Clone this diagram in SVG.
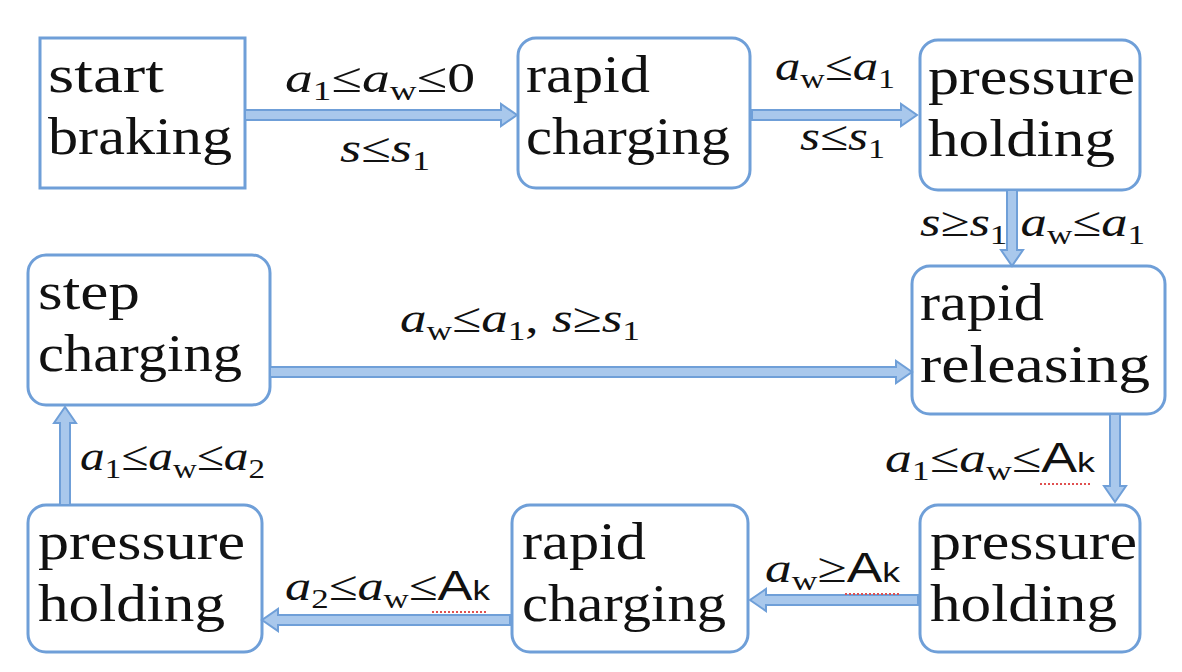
<svg xmlns="http://www.w3.org/2000/svg" width="1182" height="672" viewBox="0 0 1182 672">
<style>
.n{fill:#fff;stroke:#6f9fd8;stroke-width:3}
.t{font-family:"Liberation Serif",serif;font-size:52px;fill:#111}
.a{fill:#a9c8ec;stroke:#6f9fd8;stroke-width:2}
.l{font-family:"Liberation Serif",serif;font-size:42px;fill:#111}
.i{font-style:italic}
.s{font-size:28px}
.k{font-family:"Liberation Sans",sans-serif}
.u{stroke:#e05050;stroke-width:2;stroke-dasharray:2 2;fill:none}
</style>
<rect width="1182" height="672" fill="#fff"/>
<g id="n1"><rect class="n" x="40" y="38" width="205" height="150"/><text class="t" x="48" y="92" textLength="116" lengthAdjust="spacingAndGlyphs">start</text><text class="t" x="48" y="154" textLength="184" lengthAdjust="spacingAndGlyphs">braking</text></g>
<g id="n2"><rect class="n" x="518" y="38" width="232" height="150" rx="18"/><text class="t" x="526" y="92" textLength="124" lengthAdjust="spacingAndGlyphs">rapid</text><text class="t" x="526" y="154" textLength="204" lengthAdjust="spacingAndGlyphs">charging</text></g>
<g id="n3"><rect class="n" x="920" y="40" width="220" height="150" rx="18"/><text class="t" x="928" y="94" textLength="207" lengthAdjust="spacingAndGlyphs">pressure</text><text class="t" x="928" y="156" textLength="187" lengthAdjust="spacingAndGlyphs">holding</text></g>
<g id="n4"><rect class="n" x="912" y="266" width="253" height="148" rx="18"/><text class="t" x="920" y="320" textLength="124" lengthAdjust="spacingAndGlyphs">rapid</text><text class="t" x="920" y="382" textLength="230" lengthAdjust="spacingAndGlyphs">releasing</text></g>
<g id="n5"><rect class="n" x="28" y="255" width="242" height="150" rx="18"/><text class="t" x="38" y="309" textLength="102" lengthAdjust="spacingAndGlyphs">step</text><text class="t" x="38" y="371" textLength="204" lengthAdjust="spacingAndGlyphs">charging</text></g>
<g id="n6"><rect class="n" x="920" y="505" width="220" height="147" rx="18"/><text class="t" x="930" y="559" textLength="207" lengthAdjust="spacingAndGlyphs">pressure</text><text class="t" x="930" y="621" textLength="187" lengthAdjust="spacingAndGlyphs">holding</text></g>
<g id="n7"><rect class="n" x="512" y="505" width="236" height="147" rx="18"/><text class="t" x="522" y="559" textLength="124" lengthAdjust="spacingAndGlyphs">rapid</text><text class="t" x="522" y="621" textLength="204" lengthAdjust="spacingAndGlyphs">charging</text></g>
<g id="n8"><rect class="n" x="28" y="505" width="234" height="147" rx="18"/><text class="t" x="38" y="559" textLength="207" lengthAdjust="spacingAndGlyphs">pressure</text><text class="t" x="38" y="621" textLength="187" lengthAdjust="spacingAndGlyphs">holding</text></g>
<g id="connectors">
<polygon class="a" points="245,110 501,110 501,104 517,115 501,126 501,120 245,120"/>
<polygon class="a" points="752,110 901,110 901,104 917,115 901,126 901,120 752,120"/>
<polygon class="a" points="1007,190 1007,250 1001,250 1012,266 1023,250 1017,250 1017,190"/>
<polygon class="a" points="270,367 896,367 896,361 912,372 896,383 896,377 270,377"/>
<polygon class="a" points="1110,414 1110,486 1104,486 1115,502 1126,486 1120,486 1120,414"/>
<polygon class="a" points="918,595 766,595 766,589 750,600 766,611 766,605 918,605"/>
<polygon class="a" points="510,615 278,615 278,609 262,620 278,631 278,625 510,625"/>
<polygon class="a" points="60,505 60,423 54,423 65,407 76,423 70,423 70,505"/>
</g>
<g id="labels">
<text class="l" x="285" y="92" textLength="190" lengthAdjust="spacingAndGlyphs"><tspan class="i">a</tspan><tspan class="s" dy="8">1</tspan><tspan dy="-8">≤</tspan><tspan class="i">a</tspan><tspan class="s" dy="8">w</tspan><tspan dy="-8">≤0</tspan></text>
<text class="l" x="340" y="162" textLength="90" lengthAdjust="spacingAndGlyphs"><tspan class="i">s</tspan>≤<tspan class="i">s</tspan><tspan class="s" dy="8">1</tspan></text>
<text class="l" x="775" y="80" textLength="120" lengthAdjust="spacingAndGlyphs"><tspan class="i">a</tspan><tspan class="s" dy="8">w</tspan><tspan dy="-8">≤</tspan><tspan class="i">a</tspan><tspan class="s" dy="8">1</tspan></text>
<text class="l" x="800" y="150" textLength="85" lengthAdjust="spacingAndGlyphs"><tspan class="i">s</tspan>≤<tspan class="i">s</tspan><tspan class="s" dy="8">1</tspan></text>
<text class="l" x="920" y="236" textLength="225" lengthAdjust="spacingAndGlyphs"><tspan class="i">s</tspan>≥<tspan class="i">s</tspan><tspan class="s" dy="8">1</tspan><tspan dy="-8"> </tspan><tspan class="i">a</tspan><tspan class="s" dy="8">w</tspan><tspan dy="-8">≤</tspan><tspan class="i">a</tspan><tspan class="s" dy="8">1</tspan></text>
<text class="l" x="400" y="332" textLength="240" lengthAdjust="spacingAndGlyphs"><tspan class="i">a</tspan><tspan class="s" dy="8">w</tspan><tspan dy="-8">≤</tspan><tspan class="i">a</tspan><tspan class="s" dy="8">1</tspan><tspan dy="-8">, </tspan><tspan class="i">s</tspan>≥<tspan class="i">s</tspan><tspan class="s" dy="8">1</tspan></text>
<text class="l" x="885" y="472" textLength="210" lengthAdjust="spacingAndGlyphs"><tspan class="i">a</tspan><tspan class="s" dy="8">1</tspan><tspan dy="-8">≤</tspan><tspan class="i">a</tspan><tspan class="s" dy="8">w</tspan><tspan dy="-8">≤</tspan><tspan class="k">A</tspan><tspan class="k s">k</tspan></text>
<path class="u" d="M1040,484 H1092"/>
<text class="l" x="765" y="582" textLength="135" lengthAdjust="spacingAndGlyphs"><tspan class="i">a</tspan><tspan class="s" dy="8">w</tspan><tspan dy="-8">≥</tspan><tspan class="k">A</tspan><tspan class="k s">k</tspan></text>
<path class="u" d="M845,594 H900"/>
<text class="l" x="285" y="600" textLength="205" lengthAdjust="spacingAndGlyphs"><tspan class="i">a</tspan><tspan class="s" dy="8">2</tspan><tspan dy="-8">≤</tspan><tspan class="i">a</tspan><tspan class="s" dy="8">w</tspan><tspan dy="-8">≤</tspan><tspan class="k">A</tspan><tspan class="k s">k</tspan></text>
<path class="u" d="M432,612 H487"/>
<text class="l" x="80" y="470" textLength="185" lengthAdjust="spacingAndGlyphs"><tspan class="i">a</tspan><tspan class="s" dy="8">1</tspan><tspan dy="-8">≤</tspan><tspan class="i">a</tspan><tspan class="s" dy="8">w</tspan><tspan dy="-8">≤</tspan><tspan class="i">a</tspan><tspan class="s" dy="8">2</tspan></text>
</g>
</svg>
